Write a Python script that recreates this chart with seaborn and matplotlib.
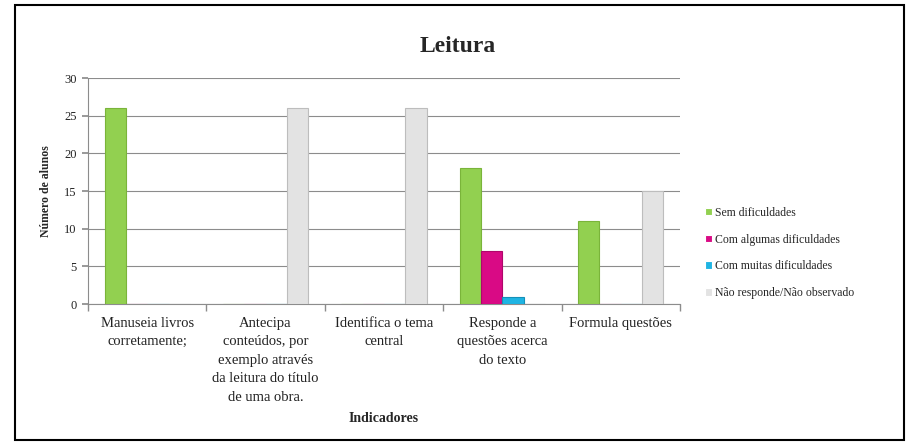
import pandas as pd
import matplotlib.pyplot as plt
import seaborn as sns
from matplotlib.patches import Rectangle

# Data
indicadores = ['Manuseia livros\ncorretamente;',
               'Antecipa\nconteúdos, por\nexemplo através\nda leitura do título\nde uma obra.',
               'Identifica o tema\ncentral',
               'Responde a\nquestões acerca\ndo texto',
               'Formula questões']
categorias = ['Sem dificuldades', 'Com algumas dificuldades',
              'Com muitas dificuldades', 'Não responde/Não observado']
sem_dificuldades = [26, 0, 0, 18, 11]
algumas_dificuldades = [0, 0, 0, 7, 0]
muitas_dificuldades = [0, 0, 0, 1, 0]
nao_responde = [0, 26, 26, 0, 15]

cores = ['#92D050', '#D90A85', '#1FB4E3', '#E3E3E3']
bordas = ['#7AB43A', '#B0066B', '#1590B8', '#BDBDBD']

df = pd.DataFrame({'Indicador': indicadores * 4,
                   'Categoria': [c for c in categorias for _ in indicadores],
                   'Alunos': sem_dificuldades + algumas_dificuldades
                   + muitas_dificuldades + nao_responde})

sns.set_theme(style='white')
plt.rcParams['font.family'] = ['Liberation Serif', 'DejaVu Serif']

fig = plt.figure(figsize=(9.11, 4.42), dpi=100)
ax = fig.add_axes([0.0966, 0.312, 0.6498, 0.5115])

sns.barplot(ax=ax, data=df, x='Indicador', y='Alunos', hue='Categoria',
            hue_order=categorias, palette=cores, width=0.72,
            saturation=1, linewidth=0.8, zorder=3)

# darker edges per series
for cont, ec in zip(ax.containers, bordas):
    for bar in cont:
        bar.set_edgecolor(ec)

ax.set_ylim(0, 30)
ax.set_xlim(-0.5, 4.5)
ax.set_yticks(range(0, 31, 5))
ax.yaxis.grid(True, color='#8C8C8C', linewidth=0.8, zorder=0)
ax.set_axisbelow(True)
for s in ['top', 'right']:
    ax.spines[s].set_visible(False)
for s in ['left', 'bottom']:
    ax.spines[s].set_color('#8C8C8C')
    ax.spines[s].set_linewidth(0.8)

ax.tick_params(axis='y', labelsize=9, left=True, length=4, color='#8C8C8C',
               pad=4, labelcolor='#222222')
ax.set_xticks(range(len(indicadores)))
ax.set_xticklabels(indicadores, linespacing=1.55)
ax.set_xticks([i - 0.5 for i in range(6)], minor=True)
ax.tick_params(axis='x', which='minor', bottom=True, length=5, color='#8C8C8C')
ax.tick_params(axis='x', which='major', length=0, labelsize=10.5, pad=9,
               labelcolor='#222222')

ax.set_ylabel('Número de alunos', fontsize=8.5, fontweight='bold', labelpad=9)
ax.set_xlabel('Indicadores', fontsize=10, fontweight='bold', labelpad=6)

ax.legend(loc='center left', bbox_to_anchor=(1.025, 0.226), frameon=False,
          fontsize=8.5, handlelength=0.6, handleheight=0.6, handletextpad=0.2,
          labelspacing=1.25)

fig.text(0.503, 0.895, 'Leitura', ha='center', va='center',
         fontsize=17, fontweight='bold')

fig.patches.append(Rectangle((0.016, 0.004), 0.976, 0.985, transform=fig.transFigure,
                             fill=False, edgecolor='black', linewidth=1.5))

fig.savefig('out.png', dpi=100, facecolor='white')
